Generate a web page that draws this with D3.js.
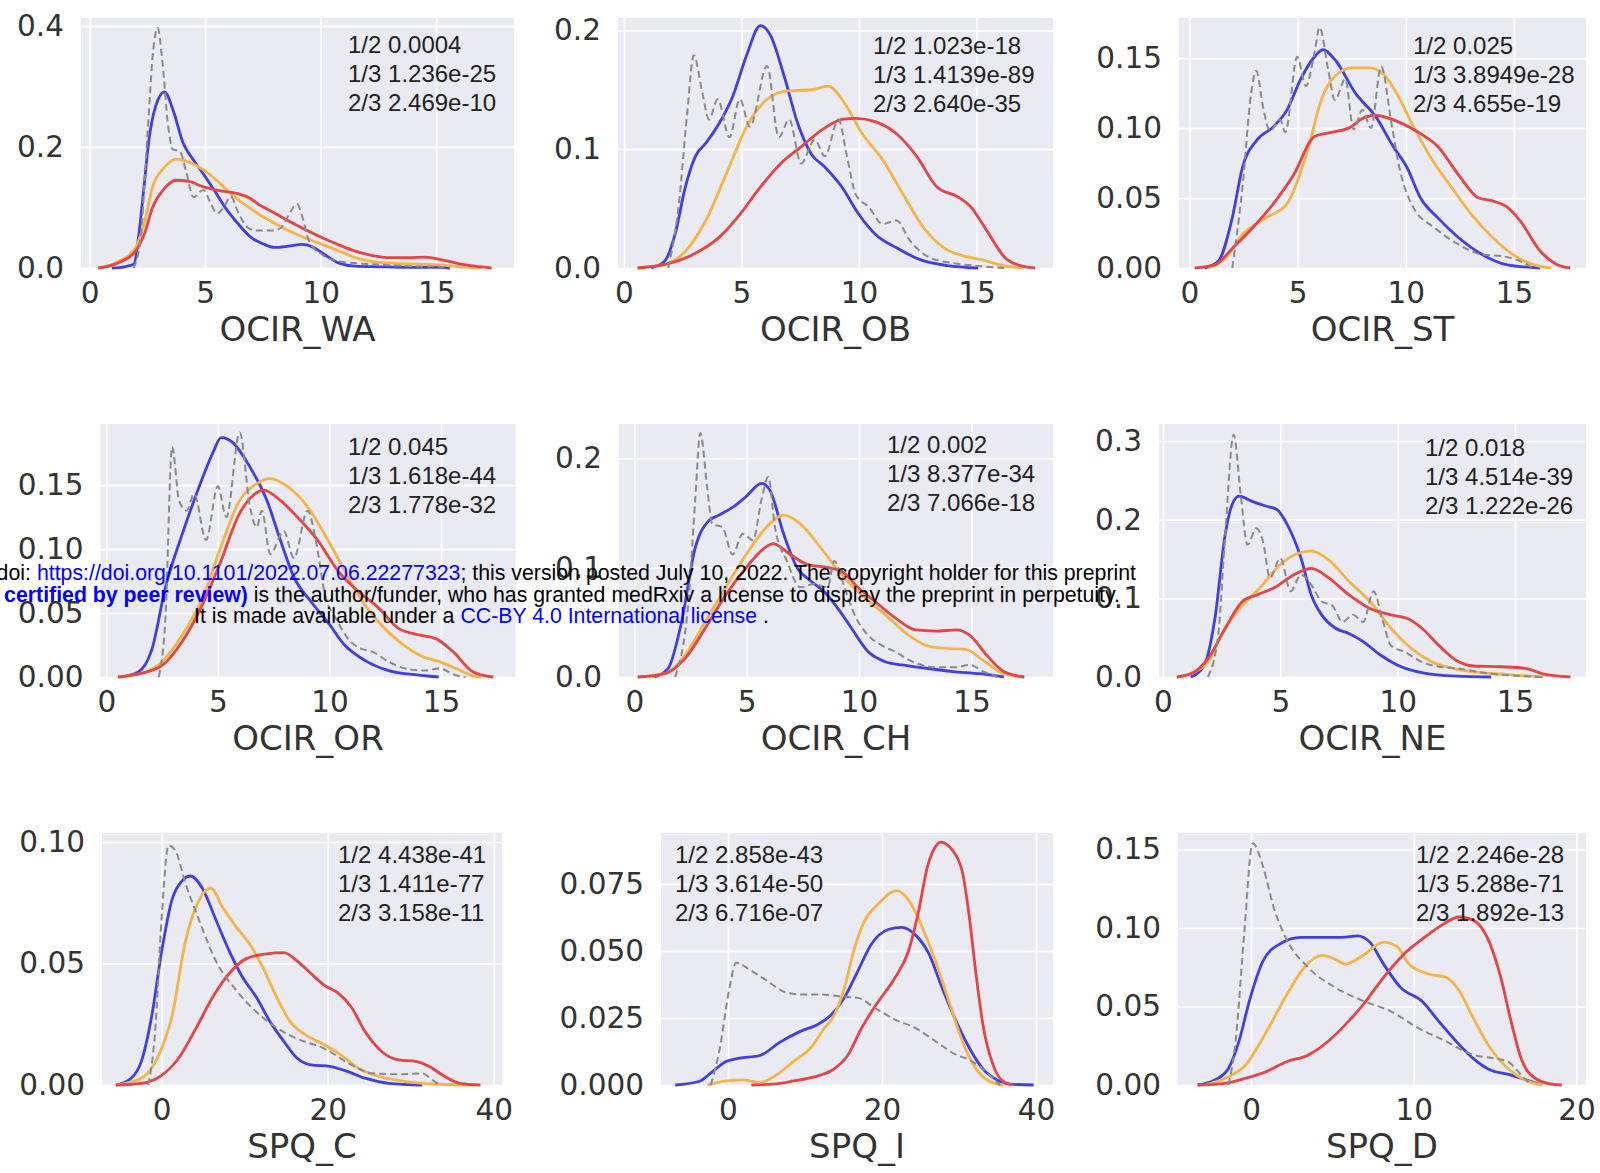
<!DOCTYPE html>
<html>
<head>
<meta charset="utf-8">
<script src="https://cdn.jsdelivr.net/npm/d3@7"></script>
<style>
  body { margin: 0; background: #fff; }
  svg { display: block; }
</style>
</head>
<body>
<svg id="chart" width="1600" height="1173"></svg>
<script>
// ---- data: [score, density] ----
const waBlue = [[0.96,0],[1.5,0.002],[1.91,0.006],[2.13,0.056],[2.35,0.134],[2.57,0.213],[2.87,0.269],[3.24,0.291],[3.6,0.262],[4.04,0.207],[4.5,0.178],[4.93,0.155],[5.4,0.128],[5.9,0.098],[6.4,0.074],[7.0,0.05],[7.5,0.04],[8.0,0.034],[8.6,0.036],[9.2,0.039],[9.7,0.034],[10.1,0.024],[10.8,0.008],[11.5,0.003],[12.5,0.002],[14,0.001],[15.2,0.001],[15.6,0]];
const waOrange = [[0.37,0],[1.2,0.01],[1.99,0.034],[2.4,0.08],[2.72,0.134],[3.2,0.165],[3.75,0.18],[4.3,0.175],[4.93,0.162],[5.5,0.145],[6.1,0.123],[6.7,0.105],[7.28,0.09],[8.0,0.074],[8.6,0.062],[9.3,0.05],[10.07,0.039],[10.8,0.028],[11.5,0.017],[12.2,0.011],[13,0.008],[14.5,0.006],[15.5,0.004],[16.3,0.0015],[17,0]];
const waRed = [[0.37,0],[1.2,0.008],[1.99,0.028],[2.4,0.06],[2.72,0.1],[3.2,0.13],[3.75,0.145],[4.3,0.143],[4.93,0.134],[5.6,0.128],[6.4,0.123],[6.9,0.116],[7.28,0.106],[8.0,0.091],[8.6,0.078],[9.3,0.064],[10.07,0.05],[10.8,0.038],[11.5,0.028],[12.2,0.021],[13,0.017],[13.8,0.017],[14.5,0.018],[15.2,0.014],[16,0.007],[16.7,0.003],[17.4,0]];
const waAll = [[1.9,0],[2.2,0.05],[2.5,0.22],[2.75,0.36],[2.94,0.397],[3.16,0.336],[3.38,0.24],[3.6,0.196],[3.9,0.193],[4.19,0.157],[4.49,0.117],[4.93,0.129],[5.2,0.11],[5.51,0.09],[5.8,0.1],[6.1,0.118],[6.45,0.09],[6.84,0.067],[7.2,0.062],[7.57,0.062],[7.95,0.062],[8.3,0.067],[8.65,0.09],[8.97,0.106],[9.2,0.085],[9.49,0.045],[10.07,0.022],[10.8,0.011],[12.3,0.006],[14,0.003],[15.2,0.002],[15.6,0]];

const obBlue = [[1.16,0],[1.74,0.006],[2.17,0.028],[2.61,0.068],[3.04,0.094],[3.48,0.105],[4.06,0.122],[4.64,0.145],[5.22,0.179],[5.8,0.204],[6.23,0.196],[6.81,0.162],[7.39,0.122],[7.97,0.096],[8.55,0.085],[9.28,0.068],[10.0,0.045],[10.72,0.028],[11.6,0.017],[12.6,0.007],[13.77,0.002],[15.07,0]];
const obOrange = [[0.58,0],[1.74,0.003],[2.61,0.014],[3.48,0.04],[4.35,0.079],[5.22,0.119],[6.09,0.142],[6.96,0.149],[7.97,0.15],[8.7,0.153],[9.28,0.142],[10.14,0.113],[11.01,0.091],[11.88,0.062],[12.75,0.034],[13.62,0.017],[14.49,0.01],[15.22,0.007],[16.23,0.0015],[16.96,0]];
const obRed = [[0.58,0],[1.74,0.003],[2.9,0.011],[4.06,0.026],[4.93,0.045],[5.8,0.068],[6.67,0.088],[7.54,0.102],[8.41,0.116],[9.28,0.125],[9.86,0.126],[10.72,0.123],[11.6,0.113],[12.46,0.094],[13.33,0.068],[14.2,0.06],[14.78,0.051],[15.36,0.034],[16.23,0.0085],[16.96,0.0015],[17.5,0]];
const obAll = [[1.88,0],[2.32,0.051],[2.68,0.128],[2.97,0.179],[3.33,0.148],[3.62,0.125],[3.99,0.142],[4.49,0.11],[4.93,0.142],[5.36,0.119],[6.09,0.17],[6.59,0.11],[7.03,0.125],[7.54,0.088],[8.12,0.108],[8.55,0.094],[9.13,0.125],[9.49,0.094],[9.86,0.062],[10.43,0.051],[11.01,0.037],[11.6,0.04],[12.17,0.023],[13.04,0.0085],[14.06,0.004],[15.2,0.0015],[16.2,0]];

const stBlue = [[0.71,0],[1.34,0.005],[1.98,0.036],[2.45,0.072],[3.09,0.091],[3.88,0.101],[4.51,0.113],[5.14,0.135],[5.78,0.151],[6.17,0.156],[6.72,0.149],[7.67,0.125],[8.62,0.108],[9.41,0.087],[10.05,0.072],[10.68,0.05],[11.47,0.036],[12.42,0.022],[13.53,0.0096],[14.64,0.0024],[16.2,0]];
const stOrange = [[0.87,0],[1.66,0.007],[2.45,0.024],[3.56,0.036],[4.51,0.046],[5.46,0.084],[6.09,0.12],[6.72,0.137],[7.52,0.143],[8.31,0.143],[8.94,0.139],[9.57,0.125],[10.36,0.101],[11.15,0.079],[12.1,0.058],[13.05,0.038],[14.0,0.022],[14.95,0.0096],[15.9,0.0024],[16.7,0]];
const stRed = [[0.24,0],[1.19,0.0024],[1.98,0.014],[2.93,0.029],[3.88,0.046],[4.83,0.067],[5.78,0.094],[6.57,0.097],[7.36,0.1],[8.15,0.108],[8.62,0.109],[9.57,0.105],[10.68,0.096],[11.47,0.087],[12.42,0.067],[13.37,0.05],[14.0,0.048],[14.64,0.044],[15.27,0.034],[16.22,0.012],[17.0,0.0024],[17.6,0]];
const stAll = [[1.98,0],[2.45,0.058],[2.85,0.125],[3.09,0.141],[3.4,0.115],[3.72,0.098],[4.2,0.106],[4.43,0.097],[4.98,0.151],[5.38,0.13],[5.78,0.154],[6.01,0.172],[6.41,0.142],[6.72,0.12],[7.2,0.135],[7.59,0.099],[7.99,0.113],[8.39,0.1],[8.86,0.144],[9.34,0.103],[9.73,0.07],[10.36,0.043],[11.31,0.029],[12.42,0.017],[13.53,0.0096],[14.48,0.0084],[15.1,0.006],[15.9,0]];

const orBlue = [[0.68,0],[1.44,0.004],[2.05,0.022],[2.65,0.07],[3.41,0.112],[4.17,0.149],[4.77,0.175],[5.15,0.187],[5.68,0.183],[6.44,0.164],[7.2,0.138],[7.8,0.107],[8.41,0.078],[9.17,0.059],[9.92,0.043],[10.68,0.025],[11.59,0.013],[12.65,0.005],[13.7,0.002],[14.9,0]];
const orOrange = [[0.53,0],[1.59,0.003],[2.5,0.012],[3.41,0.033],[4.32,0.062],[5.08,0.099],[5.98,0.138],[6.74,0.151],[7.35,0.155],[8.11,0.149],[9.02,0.133],[9.77,0.112],[10.53,0.088],[11.29,0.064],[12.2,0.043],[13.1,0.028],[14.17,0.016],[14.92,0.012],[15.68,0.0066],[16.4,0.001],[16.8,0]];
const orRed = [[0.53,0],[1.59,0.003],[2.5,0.009],[3.41,0.028],[4.32,0.057],[5.08,0.088],[5.98,0.128],[6.59,0.142],[7.05,0.146],[7.8,0.138],[8.56,0.125],[9.47,0.107],[10.38,0.083],[11.29,0.067],[12.2,0.054],[13.1,0.038],[14.0,0.033],[14.77,0.03],[15.53,0.02],[16.44,0.004],[17.35,0]];
const orAll = [[2.35,0],[2.65,0.046],[2.95,0.18],[3.26,0.138],[3.6,0.13],[3.94,0.143],[4.47,0.107],[5.0,0.149],[5.38,0.125],[5.98,0.191],[6.44,0.133],[6.74,0.117],[6.97,0.13],[7.35,0.096],[7.95,0.114],[8.41,0.093],[9.02,0.13],[9.39,0.107],[9.77,0.067],[10.38,0.043],[10.83,0.03],[11.44,0.022],[11.89,0.02],[12.65,0.012],[13.4,0.0066],[14.3,0.005],[14.92,0.0066],[15.68,0.0013],[16.1,0]];

const chBlue = [[0.9,0],[1.51,0.008],[2.11,0.051],[2.71,0.118],[3.32,0.143],[3.77,0.148],[4.37,0.155],[4.98,0.165],[5.66,0.177],[6.03,0.171],[6.64,0.131],[7.24,0.1],[7.84,0.088],[8.45,0.078],[9.05,0.063],[9.65,0.045],[10.41,0.023],[11.16,0.014],[11.92,0.011],[12.97,0.008],[14.18,0.005],[15.38,0.003],[16.44,0]];
const chOrange = [[0.15,0],[1.36,0.003],[2.26,0.02],[3.17,0.051],[4.07,0.082],[4.98,0.112],[5.88,0.137],[6.64,0.148],[7.39,0.14],[8.3,0.118],[9.2,0.094],[10.11,0.075],[11.16,0.057],[12.22,0.038],[13.12,0.028],[14.03,0.026],[14.78,0.025],[15.53,0.015],[16.44,0.003],[17.35,0]];
const chRed = [[0.15,0],[1.36,0.003],[2.26,0.017],[3.17,0.045],[4.07,0.075],[4.98,0.1],[5.73,0.117],[6.18,0.122],[6.94,0.112],[7.69,0.103],[8.6,0.1],[9.2,0.097],[9.95,0.082],[10.71,0.069],[11.61,0.054],[12.52,0.043],[13.42,0.042],[14.33,0.043],[14.93,0.038],[15.68,0.02],[16.44,0.005],[17.35,0]];
const chAll = [[1.81,0],[2.41,0.069],[2.71,0.162],[2.94,0.223],[3.24,0.174],[3.47,0.14],[3.92,0.137],[4.37,0.112],[4.83,0.131],[5.28,0.125],[5.66,0.162],[5.96,0.183],[6.26,0.137],[6.79,0.106],[7.39,0.082],[7.99,0.085],[8.6,0.082],[8.9,0.106],[9.35,0.082],[9.8,0.057],[10.41,0.038],[11.01,0.029],[11.61,0.023],[12.37,0.014],[13.42,0.009],[14.33,0.009],[14.93,0.011],[15.53,0.005],[16.14,0]];

const neBlue = [[1.18,0],[1.76,0.015],[2.21,0.074],[2.65,0.181],[2.94,0.219],[3.24,0.23],[3.82,0.223],[4.41,0.217],[4.85,0.213],[5.29,0.194],[5.88,0.151],[6.32,0.104],[6.76,0.079],[7.35,0.062],[7.94,0.055],[8.53,0.045],[9.26,0.028],[10.0,0.015],[11.03,0.0055],[12.5,0.001],[13.97,0]];
const neOrange = [[0.59,0],[1.32,0.006],[1.91,0.019],[2.65,0.062],[3.38,0.091],[4.12,0.113],[5.0,0.143],[5.74,0.157],[6.32,0.16],[7.06,0.149],[7.94,0.121],[8.82,0.096],[9.71,0.062],[10.59,0.036],[11.47,0.019],[12.35,0.011],[13.24,0.0064],[14.7,0.003],[16.2,0]];
const neRed = [[0.59,0],[1.32,0.006],[1.91,0.023],[2.65,0.062],[3.38,0.096],[3.97,0.104],[4.71,0.113],[5.59,0.13],[6.32,0.138],[7.06,0.126],[7.94,0.104],[8.82,0.087],[9.71,0.079],[10.44,0.074],[11.03,0.062],[11.76,0.04],[12.5,0.021],[13.24,0.014],[14.4,0.013],[15.44,0.011],[16.18,0.004],[17.35,0]];
const neAll = [[1.91,0],[2.35,0.053],[2.65,0.181],[3.01,0.308],[3.31,0.232],[3.6,0.168],[3.97,0.189],[4.26,0.172],[4.56,0.126],[5.0,0.151],[5.44,0.109],[5.88,0.13],[6.32,0.117],[6.76,0.096],[7.21,0.091],[7.65,0.07],[8.09,0.079],[8.53,0.07],[8.97,0.109],[9.34,0.074],[9.71,0.04],[10.29,0.032],[11.03,0.019],[11.76,0.013],[12.5,0.011],[13.97,0.004],[15.44,0.001],[16.2,0]];

const spcBlue = [[-5.5,0],[-3.67,0.0028],[-2.45,0.0097],[-1.22,0.028],[0,0.055],[1.22,0.076],[2.45,0.084],[3.47,0.086],[4.9,0.081],[6.53,0.068],[8.16,0.055],[9.8,0.044],[11.43,0.036],[13.06,0.026],[14.7,0.018],[16.33,0.011],[17.96,0.0083],[20.4,0.0076],[22.45,0.0055],[24.5,0.0028],[27.35,0.0007],[31.4,0]];
const spcOrange = [[-5.5,0],[-2.45,0.0028],[-0.4,0.012],[1.22,0.028],[2.86,0.059],[4.49,0.076],[5.92,0.081],[7.35,0.073],[8.98,0.065],[10.6,0.058],[12.24,0.048],[13.88,0.036],[15.5,0.026],[17.14,0.021],[19.6,0.0166],[21.6,0.0124],[23.7,0.0069],[25.7,0.004],[29.4,0.0014],[33.5,0.0003],[37.6,0]];
const spcRed = [[-5.5,0],[-2.45,0.0007],[0,0.004],[2.04,0.011],[4.08,0.023],[6.12,0.036],[8.16,0.046],[10.2,0.052],[12.65,0.054],[14.7,0.0545],[16.33,0.051],[17.96,0.046],[19.6,0.041],[21.2,0.038],[22.86,0.032],[24.5,0.022],[26.5,0.0138],[28.57,0.0103],[30.6,0.0097],[32.24,0.0076],[33.88,0.004],[35.9,0.0007],[38.4,0]];
const spcAll = [[-1.63,0],[-0.82,0.0207],[0,0.069],[0.82,0.0986],[1.63,0.0966],[2.86,0.083],[4.49,0.068],[6.53,0.051],[8.98,0.039],[11.43,0.03],[13.88,0.0235],[16.33,0.019],[19.6,0.015],[22.86,0.0083],[25.3,0.0048],[28.57,0.0044],[31.4,0.0048],[32.65,0.002],[33.5,0]];

const spiBlue = [[-6.85,0],[-3.78,0.0013],[-2.02,0.005],[-0.26,0.0088],[1.49,0.01],[4.13,0.011],[6.76,0.016],[9.39,0.02],[11.59,0.0225],[13.35,0.026],[15.1,0.0325],[16.86,0.0425],[18.61,0.0525],[20.81,0.058],[22.56,0.0588],[24.32,0.056],[26.08,0.049],[27.83,0.036],[29.59,0.024],[31.34,0.0138],[33.1,0.006],[34.86,0.002],[36.61,0.0003],[39.68,0]];
const spiOrange = [[-2.68,0],[-0.26,0.0015],[1.93,0.0019],[4.13,0.001],[6.32,0.0038],[8.52,0.0088],[10.71,0.0138],[12.47,0.021],[13.78,0.026],[15.1,0.036],[16.42,0.051],[17.7,0.061],[19.5,0.0675],[21.9,0.0725],[23.44,0.069],[25.2,0.059],[26.96,0.046],[28.71,0.031],[30.47,0.016],[32.22,0.006],[33.98,0.0013],[35.73,0]];
const spiRed = [[3.03,0],[5.88,0.0003],[8.52,0.0015],[11.15,0.003],[13.78,0.006],[15.54,0.011],[17.3,0.021],[19.49,0.031],[21.69,0.04],[23.44,0.05],[24.76,0.065],[25.86,0.081],[26.96,0.089],[27.61,0.0906],[29.15,0.0875],[30.47,0.079],[31.34,0.0625],[32.22,0.041],[33.1,0.0225],[34.42,0.0075],[35.73,0.0013],[37.05,0]];
const spiAll = [[-2.24,0],[-1.14,0.0125],[0.18,0.036],[1.05,0.0456],[2.81,0.043],[5.0,0.039],[7.64,0.0344],[9.39,0.0338],[12.03,0.0338],[14.66,0.033],[16.86,0.0325],[19.05,0.0288],[21.69,0.0244],[24.32,0.0213],[26.96,0.0163],[29.59,0.0113],[31.34,0.0094],[33.1,0.006],[34.42,0.0025],[35.29,0]];

const spdBlue = [[-3.28,0],[-2.22,0.0032],[-1.38,0.0107],[-0.74,0.0279],[-0.1,0.0536],[0.74,0.079],[1.8,0.09],[3.07,0.094],[4.34,0.094],[5.6,0.094],[6.56,0.095],[7.3,0.091],[8.15,0.077],[9.2,0.062],[10.48,0.0536],[11.53,0.0407],[12.6,0.0279],[13.65,0.017],[14.7,0.0096],[15.77,0.0069],[16.6,0.0043],[17.9,0]];
const spdOrange = [[-2.86,0],[-1.59,0.0043],[-0.32,0.0129],[0.95,0.034],[2.22,0.058],[3.28,0.075],[4.34,0.0825],[5.19,0.08],[5.8,0.077],[6.88,0.0825],[8.15,0.091],[9.0,0.0879],[9.7,0.077],[10.9,0.0707],[11.96,0.0686],[12.8,0.06],[13.65,0.0429],[14.7,0.0236],[15.77,0.0107],[16.83,0.0032],[17.9,0]];
const spdRed = [[-3.28,0],[-1.59,0.0011],[-0.32,0.0043],[0.95,0.0086],[2.22,0.015],[3.5,0.019],[4.76,0.028],[6.03,0.041],[6.88,0.051],[8.15,0.0686],[9.42,0.0836],[10.7,0.0943],[11.75,0.102],[12.8,0.107],[13.65,0.105],[14.5,0.0943],[15.35,0.0686],[15.98,0.0407],[16.6,0.017],[17.46,0.0043],[18.5,0.0005],[19.1,0]];
const spdAll = [[-1.38,0],[-0.95,0.0279],[-0.42,0.0964],[0.1,0.154],[0.74,0.139],[1.38,0.1136],[2.22,0.092],[3.5,0.075],[5.19,0.062],[6.88,0.0536],[8.57,0.047],[10.26,0.0364],[11.96,0.0279],[13.65,0.0193],[14.92,0.017],[15.77,0.015],[16.6,0.0064],[17.25,0]];

const scaleNames = ["OCIR_WA", "OCIR_OB", "OCIR_ST", "OCIR_OR", "OCIR_CH", "OCIR_NE", "SPQ_C", "SPQ_I", "SPQ_D"];
const seriesByScale = [
  [waBlue, waOrange, waRed, waAll], [obBlue, obOrange, obRed, obAll], [stBlue, stOrange, stRed, stAll],
  [orBlue, orOrange, orRed, orAll], [chBlue, chOrange, chRed, chAll], [neBlue, neOrange, neRed, neAll],
  [spcBlue, spcOrange, spcRed, spcAll], [spiBlue, spiOrange, spiRed, spiAll], [spdBlue, spdOrange, spdRed, spdAll]
];
const xTickValues = [[0,5,10,15],[0,5,10,15],[0,5,10,15],[0,5,10,15],[0,5,10,15],[0,5,10,15],[0,20,40],[0,20,40],[0,10,20]];
const yTickValues = [[0,0.2,0.4],[0,0.1,0.2],[0,0.05,0.1,0.15],[0,0.05,0.1,0.15],[0,0.1,0.2],[0,0.1,0.2,0.3],[0,0.05,0.1],[0,0.025,0.05,0.075],[0,0.05,0.1,0.15]];
const yTickDigits = [1, 1, 2, 2, 1, 1, 2, 3, 2];
const pValues = [
  ["1/2 0.0004", "1/3 1.236e-25", "2/3 2.469e-10"],
  ["1/2 1.023e-18", "1/3 1.4139e-89", "2/3 2.640e-35"],
  ["1/2 0.025", "1/3 3.8949e-28", "2/3 4.655e-19"],
  ["1/2 0.045", "1/3 1.618e-44", "2/3 1.778e-32"],
  ["1/2 0.002", "1/3 8.377e-34", "2/3 7.066e-18"],
  ["1/2 0.018", "1/3 4.514e-39", "2/3 1.222e-26"],
  ["1/2 4.438e-41", "1/3 1.411e-77", "2/3 3.158e-11"],
  ["1/2 2.858e-43", "1/3 3.614e-50", "2/3 6.716e-07"],
  ["1/2 2.246e-28", "1/3 5.288e-71", "2/3 1.892e-13"]
];
const xLimits = [[-0.377,18.37],[-0.255,18.26],[-0.485,18.33],[-0.26,18.34],[-0.68,18.63],[-0.17,18.02],[-7.19,41.0],[-8.7,42.2],[-4.49,20.59]];
const yLimits = [[0,0.413],[0,0.2104],[0,0.1787],[0,0.1977],[0,0.2313],[0,0.3216],[0,0.1037],[0,0.094],[0,0.1605]];

// ---- layout (pixel boxes of each axes, and where the p-value block sits) ----
const boxes = [
  [81,514,18,268],[618,1053,18,268],[1179,1586,18,268],
  [100.5,515.5,424,677],[619,1053,424,677],[1159,1586,424,677],
  [102,502,833,1085],[661,1053,833,1085],[1178,1586,833,1085]
];
const notePos = [[348,53],[873,54],[1413,54],[348,455],[887,453],[1425,456],[338,863],[675,863],[1416,863]];
const lineColors = ["#3f3fe3", "#f4b44a", "#e54545", "#8a8a8a"];

const svg = d3.select("#chart");

scaleNames.forEach((name, i) => {
  const [x0, x1, y0, y1] = boxes[i];
  const x = d3.scaleLinear().domain(xLimits[i]).range([x0, x1]);
  const y = d3.scaleLinear().domain(yLimits[i]).range([y1, y0]);
  const g = svg.append("g");

  g.append("rect")
    .attr("x", x0).attr("y", y0)
    .attr("width", x1 - x0).attr("height", y1 - y0)
    .attr("fill", "#EAEAF2");

  const styleAxis = a => {
    a.attr("font-family", "'DejaVu Sans', sans-serif").attr("font-size", 29.5);
    a.select(".domain").remove();
    a.selectAll(".tick line").attr("stroke", "#fff").attr("stroke-width", 1.7);
    a.selectAll(".tick text").attr("fill", "#333");
  };

  g.append("g")
    .attr("transform", `translate(0,${y1})`)
    .call(d3.axisBottom(x).tickValues(xTickValues[i]).tickFormat(d3.format("d"))
      .tickSize(-(y1 - y0)).tickPadding(14.5))
    .call(styleAxis);

  g.append("g")
    .attr("transform", `translate(${x0},0)`)
    .call(d3.axisLeft(y).tickValues(yTickValues[i]).tickFormat(d3.format(`.${yTickDigits[i]}f`))
      .tickSize(-(x1 - x0)).tickPadding(17))
    .call(styleAxis);

  const line = d3.line()
    .x(d => x(d[0]))
    .y(d => y(d[1]))
    .curve(d3.curveMonotoneX);

  seriesByScale[i].forEach((s, k) => {
    g.append("path")
      .datum(s)
      .attr("d", line)
      .attr("fill", "none")
      .attr("stroke", lineColors[k])
      .attr("stroke-width", k === 3 ? 2 : 2.8)
      .attr("stroke-dasharray", k === 3 ? "7,4" : null)
      .attr("stroke-linejoin", "round");
  });

  g.append("text")
    .attr("x", (x0 + x1) / 2)
    .attr("y", y1 + 73)
    .attr("text-anchor", "middle")
    .attr("font-family", "'DejaVu Sans', sans-serif")
    .attr("font-size", 34)
    .attr("fill", "#333")
    .text(name);

  const note = g.append("text")
    .attr("font-family", "'Liberation Sans', Arial, sans-serif")
    .attr("font-size", 24)
    .attr("fill", "#222");
  pValues[i].forEach((t, j) => {
    note.append("tspan")
      .attr("x", notePos[i][0])
      .attr("y", notePos[i][1] + j * 29)
      .text(t);
  });
});

// medRxiv stamp laid over the page
const stamp = svg.append("g")
  .attr("font-family", "'Liberation Sans', Arial, sans-serif")
  .attr("font-size", 21.3)
  .style("white-space", "pre");

const l1 = stamp.append("text").attr("x", 1136).attr("y", 580).attr("text-anchor", "end");
l1.append("tspan").attr("fill", "#000").text("medRxiv preprint doi: ");
l1.append("tspan").attr("fill", "#0000ff").text("https://doi.org/10.1101/2022.07.06.22277323");
l1.append("tspan").attr("fill", "#000").text("; this version posted July 10, 2022. The copyright holder for this preprint");

const l2 = stamp.append("text").attr("x", 1120).attr("y", 601.5).attr("text-anchor", "end");
l2.append("tspan").attr("fill", "#0000ff").attr("font-weight", "bold").text("(which was not certified by peer review)");
l2.append("tspan").attr("fill", "#000").text(" is the author/funder, who has granted medRxiv a license to display the preprint in perpetuity.");

const l3 = stamp.append("text").attr("x", 194).attr("y", 623);
l3.append("tspan").attr("fill", "#000").text("It is made available under a ");
l3.append("tspan").attr("fill", "#0000ff").text("CC-BY 4.0 International license");
l3.append("tspan").attr("fill", "#000").text(" .");
</script>
</body>
</html>
